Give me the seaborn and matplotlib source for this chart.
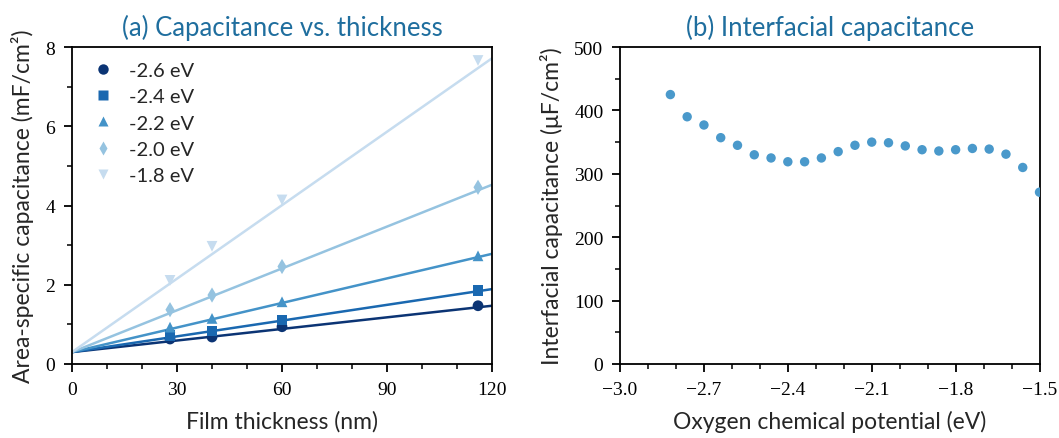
import numpy as np
import pandas as pd
import matplotlib
matplotlib.use("Agg")
import matplotlib.pyplot as plt
import seaborn as sns
from matplotlib.ticker import MultipleLocator
from matplotlib.lines import Line2D

# ---------------- data ----------------
thickness = [28, 40, 60, 116]
potentials = ["-2.6 eV", "-2.4 eV", "-2.2 eV", "-2.0 eV", "-1.8 eV"]
cap_m26 = [0.63, 0.68, 0.94, 1.47]
cap_m24 = [0.71, 0.83, 1.11, 1.86]
cap_m22 = [0.93, 1.15, 1.57, 2.73]
cap_m20 = [1.37, 1.74, 2.46, 4.46]
cap_m18 = [2.11, 2.97, 4.14, 7.66]
fit_intercept = 0.30
fit_slopes = [0.00975, 0.01325, 0.02067, 0.0352, 0.0618]
fit_range = [0, 120]

mu_O = [-2.82, -2.76, -2.70, -2.64, -2.58, -2.52, -2.46, -2.40, -2.34, -2.28,
        -2.22, -2.16, -2.10, -2.04, -1.98, -1.92, -1.86, -1.80, -1.74, -1.68,
        -1.62, -1.56, -1.50]
c_int = [425, 390, 377, 357, 345, 330, 325, 319, 319, 325,
         335, 345, 350, 349, 344, 338, 336, 338, 340, 339,
         331, 310, 271]

# ---------------- style ----------------
colors = ["#0b3474", "#1a68b0", "#4493c8", "#95c3e0", "#c6dcef"]
markers = ["o", "s", "^", "d", "v"]
title_color = "#1f6e9e"
pt_color = "#4a99cb"

sns.set_theme(style="ticks")
plt.rcParams["font.family"] = ["Lato", "DejaVu Sans"]
label_font = ["Lato", "DejaVu Sans"]
tick_font = ["Liberation Serif", "DejaVu Serif"]

fig = plt.figure(figsize=(10.59, 4.39), dpi=100)
ax1 = fig.add_axes([0.068, 0.1686, 0.3966, 0.722])
ax2 = fig.add_axes([0.5855, 0.1686, 0.3961, 0.722])

# ---------------- panel (a) ----------------
series = [cap_m26, cap_m24, cap_m22, cap_m20, cap_m18]
rows = []
for lab, vals in zip(potentials, series):
    for t, v in zip(thickness, vals):
        rows.append({"thickness": t, "cap": v, "pot": lab})
df_a = pd.DataFrame(rows)

fit_rows = []
for lab, s in zip(potentials, fit_slopes):
    for x in fit_range:
        fit_rows.append({"thickness": x, "cap": fit_intercept + s * x, "pot": lab})
df_fit = pd.DataFrame(fit_rows)

pal = dict(zip(potentials, colors))
sns.lineplot(data=df_fit, x="thickness", y="cap", hue="pot", palette=pal,
             ax=ax1, legend=False, linewidth=1.8, zorder=2)
sns.scatterplot(data=df_a, x="thickness", y="cap", hue="pot", style="pot",
                palette=pal, markers=dict(zip(potentials, markers)),
                ax=ax1, legend=False, s=60, edgecolor="none", zorder=3)

handles = [Line2D([], [], linestyle="none", marker=m, color=c, markersize=7.5,
                  markeredgecolor="none")
           for m, c in zip(markers, colors)]
leg = ax1.legend(handles, potentials, loc="upper left", frameon=False,
                 prop={"family": label_font, "size": 14.5},
                 handletextpad=0.5, labelspacing=0.45, handlelength=1.6,
                 bbox_to_anchor=(0.0, 1.0), borderaxespad=0.35)

ax1.set_xlim(0, 120)
ax1.set_ylim(0, 8)
ax1.xaxis.set_major_locator(MultipleLocator(30))
ax1.xaxis.set_minor_locator(MultipleLocator(10))
ax1.yaxis.set_major_locator(MultipleLocator(2))
ax1.yaxis.set_minor_locator(MultipleLocator(1))
ax1.set_xlabel("Film thickness (nm)", family=label_font, fontsize=16.5, labelpad=9)
ax1.set_ylabel("Area-specific capacitance (mF/cm²)", family=label_font, fontsize=16.5, labelpad=8)
ax1.set_title("(a) Capacitance vs. thickness", family=label_font, fontsize=18.5,
              color=title_color, pad=9)

# ---------------- panel (b) ----------------
df_b = pd.DataFrame({"mu": mu_O, "c": c_int})
sns.scatterplot(data=df_b, x="mu", y="c", ax=ax2, color=pt_color, s=46,
                edgecolor="none", legend=False, zorder=3)
ax2.set_xlim(-3.0, -1.5)
ax2.set_ylim(0, 500)
ax2.xaxis.set_major_locator(MultipleLocator(0.3))
ax2.xaxis.set_minor_locator(MultipleLocator(0.1))
ax2.yaxis.set_major_locator(MultipleLocator(100))
ax2.yaxis.set_minor_locator(MultipleLocator(50))
ax2.set_xticks([-3.0, -2.7, -2.4, -2.1, -1.8, -1.5])
ax2.set_xticklabels(["\u22123.0", "\u22122.7", "\u22122.4", "\u22122.1", "\u22121.8", "\u22121.5"])
ax2.set_xlabel("Oxygen chemical potential (eV)", family=label_font, fontsize=16.5, labelpad=9)
ax2.set_ylabel("Interfacial capacitance (μF/cm²)", family=label_font, fontsize=16.5, labelpad=8)
ax2.set_title("(b) Interfacial capacitance", family=label_font, fontsize=18.5,
              color=title_color, pad=9)

for ax in (ax1, ax2):
    for sp in ax.spines.values():
        sp.set_color("black")
        sp.set_linewidth(1.3)
    ax.tick_params(which="major", direction="out", length=6, width=1.3,
                   colors="black", labelsize=14, pad=6)
    ax.tick_params(which="minor", direction="out", length=3.5, width=1.1,
                   colors="black")
    for lbl in ax.get_xticklabels() + ax.get_yticklabels():
        lbl.set_family(tick_font)
        lbl.set_fontsize(14)
    ax.grid(False)

fig.savefig("out.png", dpi=100)
